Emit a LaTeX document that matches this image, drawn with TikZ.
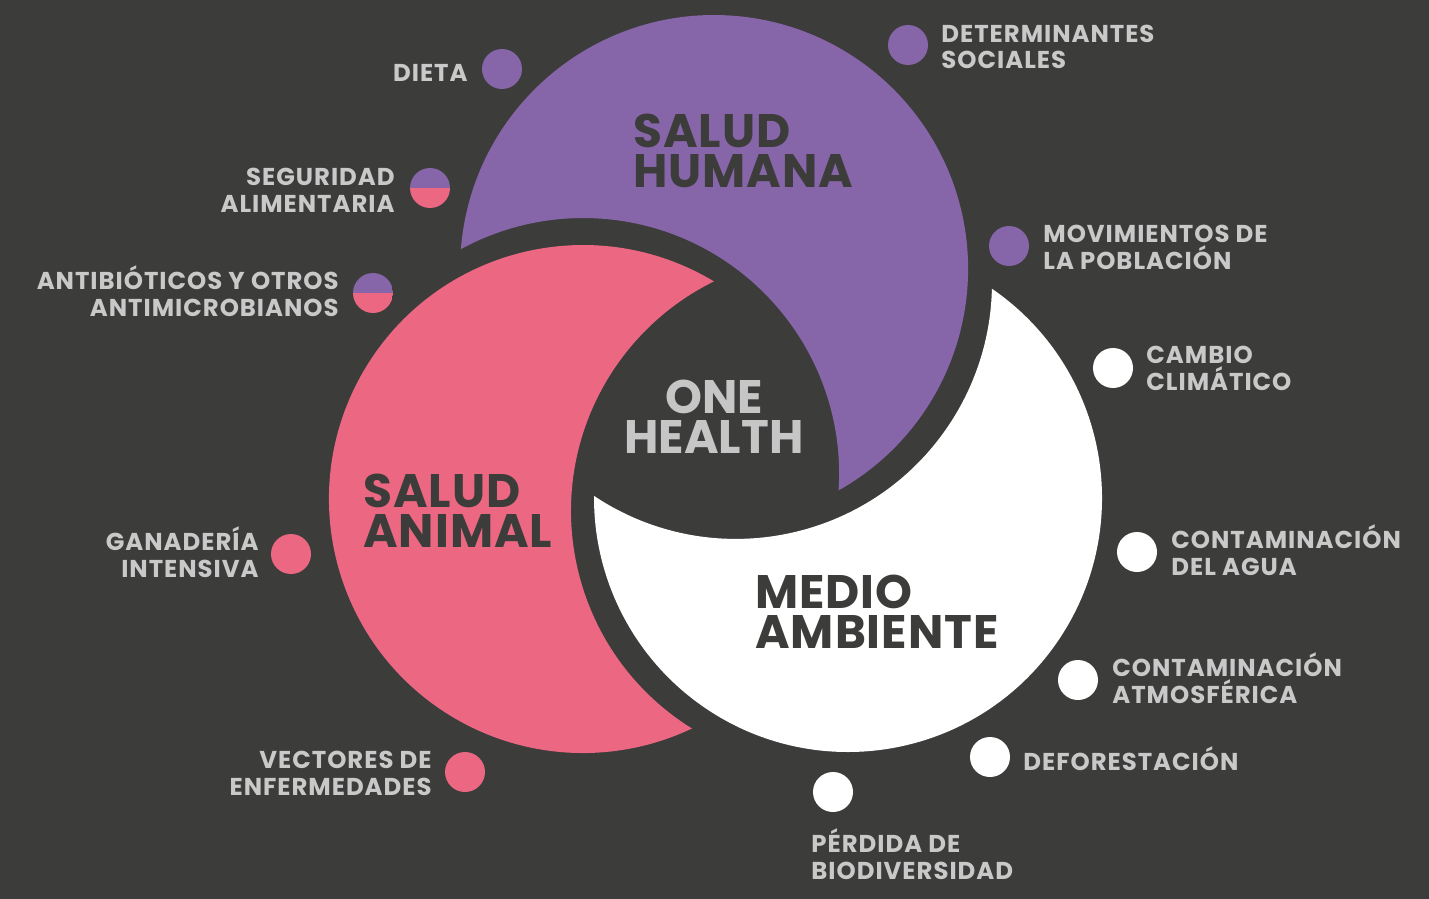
\documentclass[tikz,border=0pt]{standalone}
\usepackage{fontspec}
\setmainfont{Poppins}
\newfontfamily\lblfam{Poppins}[LetterSpace=4]
\newfontfamily\bigfam{Poppins}[LetterSpace=2]
\definecolor{bg}{HTML}{3C3C3B}
\definecolor{hpurple}{HTML}{8765A9}
\definecolor{apink}{HTML}{EC6882}
\definecolor{lgray}{HTML}{C9C9C9}
\definecolor{ohgray}{HTML}{C6C6C6}
\newcommand{\lst}{\rule{0pt}{12pt}}
\newcommand{\mst}{\rule{0pt}{20pt}}
\begin{document}
\begin{tikzpicture}[x=0.5pt,y=-0.5pt,
  lbl/.style={font=\lblfam\fontsize{12.2}{13.3}\selectfont\bfseries, text=lgray, inner sep=0pt},
  lblL/.style={lbl, align=left, anchor=north west},
  lblR/.style={lbl, align=right, anchor=north east},
  big/.style={font=\bigfam\fontsize{23.5}{20}\selectfont\bfseries, text=bg, inner sep=0pt, align=left, anchor=north west},
  dotc/.style={circle, inner sep=0pt, minimum size=20pt},
  pdot/.style={dotc, fill=hpurple},
  kdot/.style={dotc, fill=apink},
  wdot/.style={dotc, fill=white},
  hdot/.style={dotc, path picture={
      \fill[hpurple] (path picture bounding box.north west) rectangle (path picture bounding box.east);
      \fill[apink] (path picture bounding box.west) rectangle (path picture bounding box.south east);}}
  ]
\fill[bg] (0,0) rectangle (1429,899);
\useasboundingbox (0,0) rectangle (1429,899);
% purple crescent
\fill[hpurple] (460.9,249.0) arc[start angle=175.48, end angle=-60.65, radius=127pt]
  arc[start angle=-3.67, end angle=118.49, radius=128pt] -- cycle;
% pink crescent
\fill[apink] (713.9,281.4) arc[start angle=58.97, end angle=295.4, radius=127pt]
  arc[start angle=238.15, end angle=116.22, radius=128pt] -- cycle;
% white crescent
\fill[white] (991.9,288.7) arc[start angle=55.49, end angle=-180.47, radius=127pt]
  arc[start angle=-123.68, end angle=-1.28, radius=128pt] -- cycle;
% main labels
\node[big] (sh) at (633,107) {\mst SALUD\\HUMANA};
\node[big] (sa) at (363,467) {\mst SALUD\\ANIMAL};
\node[big] (ma) at (755,568) {\mst MEDIO\\AMBIENTE};
\node[big, font=\fontsize{23.5}{20}\selectfont\bfseries, text=ohgray, align=center, anchor=north] (oh) at (714,373) {\mst ONE\\HEALTH};
% dots
\node[pdot] (d1) at (502,69) {};
\node[pdot] (d2) at (908,45) {};
\node[pdot] (d3) at (1009,246) {};
\node[hdot] (d4) at (430,188) {};
\node[hdot] (d5) at (373,293) {};
\node[kdot] (d6) at (291,554) {};
\node[kdot] (d7) at (465,772) {};
\node[wdot] (d8) at (1113,368) {};
\node[wdot] (d9) at (1137,552) {};
\node[wdot] (d10) at (1078,680) {};
\node[wdot] (d11) at (990,757) {};
\node[wdot] (d12) at (833,792) {};
% labels
\node[lblR] (t1) at (468,57) {\lst DIETA};
\node[lblL] (t2) at (941,18) {\lst DETERMINANTES\\SOCIALES};
\node[lblL] (t3) at (1043,218) {\lst MOVIMIENTOS DE\\LA POBLACIÓN};
\node[lblR] (t4) at (395,161) {\lst SEGURIDAD\\ALIMENTARIA};
\node[lblR] (t5) at (339,265) {\lst ANTIBIÓTICOS Y OTROS\\ANTIMICROBIANOS};
\node[lblR] (t6) at (259,526) {\lst GANADERÍA\\INTENSIVA};
\node[lblR] (t7) at (432,744) {\lst VECTORES DE\\ENFERMEDADES};
\node[lblL] (t8) at (1146,339) {\lst CAMBIO\\CLIMÁTICO};
\node[lblL] (t9) at (1171,524) {\lst CONTAMINACIÓN\\DEL AGUA};
\node[lblL] (t10) at (1112,652) {\lst CONTAMINACIÓN\\ATMOSFÉRICA};
\node[lblL] (t11) at (1023,746) {\lst DEFORESTACIÓN};
\node[lblL] (t12) at (811,828) {\lst PÉRDIDA DE\\BIODIVERSIDAD};
\end{tikzpicture}
\end{document}
